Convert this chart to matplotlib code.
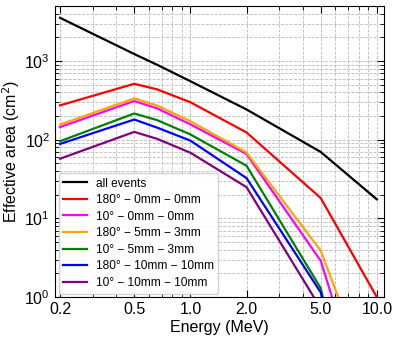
import numpy as np
import matplotlib.pyplot as plt

plt.rcParams['font.family'] = ['Liberation Sans', 'DejaVu Sans']

# Energies (MeV)
energy = [0.2, 0.5, 0.662, 1.0, 2.0, 5.0, 10.0]

# Effective area (cm^2)
all_events = [3550, 1230, 900, 555, 243, 70, 17.5]
a180_0_0 = [274, 515, 438, 300, 124, 18.2, 1.0]
a10_0_0 = [145, 311, 251, 157, 66, 2.9, 0.015]
a180_5_3 = [156, 336, 273, 172, 69, 3.9, 0.05]
a10_5_3 = [96, 216, 178, 117, 46.8, 1.3, 0.001]
a180_10_10 = [88.6, 181, 143, 97.6, 32.6, 1.15, 0.001]
a10_10_10 = [57.5, 126, 103, 68.5, 25, 0.72, 0.001]

series = [
    (all_events, 'black', 'all events'),
    (a180_0_0, 'red', '180° − 0mm − 0mm'),
    (a10_0_0, 'magenta', '10° − 0mm − 0mm'),
    (a180_5_3, 'orange', '180° − 5mm − 3mm'),
    (a10_5_3, 'green', '10° − 5mm − 3mm'),
    (a180_10_10, 'blue', '180° − 10mm − 10mm'),
    (a10_10_10, 'purple', '10° − 10mm − 10mm'),
]

xticks = [0.2, 0.5, 1.0, 2.0, 5.0, 10.0]

fig = plt.figure(figsize=(3.99, 3.40), dpi=100)
ax = fig.add_axes([0.138, 0.126, 0.824, 0.856])

for vals, col, lab in series:
    ax.plot(energy, vals, color=col, lw=1.6, label=lab)

ax.set_xscale('log')
ax.set_yscale('log')
ax.set_xlim(0.188, 10.9)
ax.set_ylim(1, 5000)
ax.set_xticks(xticks)
ax.set_xticklabels([f'{t:.1f}' for t in xticks])
ax.tick_params(which='both', direction='in', top=True, right=True, labelsize=11.5)
ax.tick_params(which='major', length=5)
ax.tick_params(which='minor', length=3)
ax.grid(True, which='both', ls='--', lw=0.6, color='#bbbbbb')

ax.set_xlabel('Energy (MeV)', fontsize=11.5, labelpad=2)
ax.set_ylabel('Effective area (cm$^2$)', fontsize=11.5, labelpad=2)

leg = ax.legend(loc='lower left', fontsize=8.6, handlelength=2.0,
                handletextpad=0.7, labelspacing=0.38, borderaxespad=0.3,
                fancybox=True, framealpha=0.9)

fig.savefig('out.png', dpi=100)
